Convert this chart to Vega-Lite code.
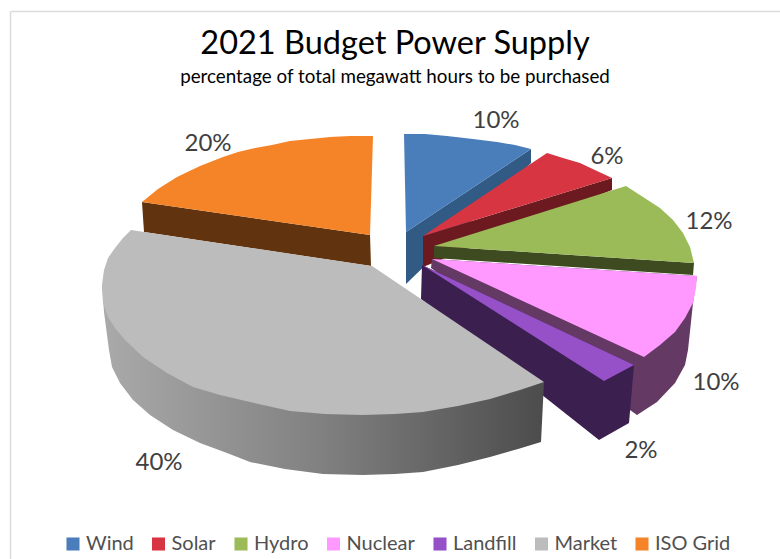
{
  "$schema": "https://vega.github.io/schema/vega-lite/v6.json",
  "width": 770,
  "height": 548,
  "padding": {"left": 10, "top": 11, "right": 0, "bottom": 0},
  "autosize": {"type": "none"},
  "background": "white",
  "config": {"view": {"stroke": null}, "font": "Lato"},
  "title": {
    "text": "2021 Budget Power Supply",
    "subtitle": "percentage of total megawatt hours to be purchased",
    "anchor": "middle",
    "frame": "group",
    "dy": 80,
    "font": "Lato",
    "fontSize": 32.5,
    "fontWeight": "normal",
    "color": "#000000",
    "subtitleFont": "Lato",
    "subtitleFontSize": 18.8,
    "subtitleColor": "#000000",
    "subtitlePadding": 8
  },
  "datasets": {
    "outline": [
      {"part": "Wind side", "seq": 1, "h": 406, "v": 232},
      {"part": "Wind side", "seq": 2, "h": 531, "v": 149},
      {"part": "Wind side", "seq": 3, "h": 531, "v": 163},
      {"part": "Wind side", "seq": 4, "h": 406, "v": 284},
      {"part": "Wind", "seq": 1, "h": 404, "v": 134},
      {"part": "Wind", "seq": 2, "h": 425, "v": 134},
      {"part": "Wind", "seq": 3, "h": 447, "v": 136},
      {"part": "Wind", "seq": 4, "h": 473, "v": 139},
      {"part": "Wind", "seq": 5, "h": 497, "v": 142},
      {"part": "Wind", "seq": 6, "h": 515, "v": 145},
      {"part": "Wind", "seq": 7, "h": 531, "v": 149},
      {"part": "Wind", "seq": 8, "h": 406, "v": 232},
      {"part": "ISO Grid side", "seq": 1, "h": 142, "v": 202},
      {"part": "ISO Grid side", "seq": 2, "h": 144, "v": 232},
      {"part": "ISO Grid side", "seq": 3, "h": 371, "v": 266},
      {"part": "ISO Grid side", "seq": 4, "h": 370, "v": 235},
      {"part": "ISO Grid", "seq": 1, "h": 373, "v": 136},
      {"part": "ISO Grid", "seq": 2, "h": 350, "v": 136},
      {"part": "ISO Grid", "seq": 3, "h": 330, "v": 137},
      {"part": "ISO Grid", "seq": 4, "h": 310, "v": 139},
      {"part": "ISO Grid", "seq": 5, "h": 290, "v": 141},
      {"part": "ISO Grid", "seq": 6, "h": 272, "v": 145},
      {"part": "ISO Grid", "seq": 7, "h": 255, "v": 148},
      {"part": "ISO Grid", "seq": 8, "h": 238, "v": 152},
      {"part": "ISO Grid", "seq": 9, "h": 223, "v": 157},
      {"part": "ISO Grid", "seq": 10, "h": 200, "v": 166},
      {"part": "ISO Grid", "seq": 11, "h": 177, "v": 177},
      {"part": "ISO Grid", "seq": 12, "h": 158, "v": 189},
      {"part": "ISO Grid", "seq": 13, "h": 142, "v": 202},
      {"part": "ISO Grid", "seq": 14, "h": 370, "v": 235},
      {"part": "Solar side", "seq": 1, "h": 423, "v": 236},
      {"part": "Solar side", "seq": 2, "h": 612, "v": 178},
      {"part": "Solar side", "seq": 3, "h": 612, "v": 190},
      {"part": "Solar side", "seq": 4, "h": 423, "v": 267},
      {"part": "Solar", "seq": 1, "h": 547, "v": 153},
      {"part": "Solar", "seq": 2, "h": 563, "v": 158},
      {"part": "Solar", "seq": 3, "h": 580, "v": 163},
      {"part": "Solar", "seq": 4, "h": 597, "v": 171},
      {"part": "Solar", "seq": 5, "h": 612, "v": 178},
      {"part": "Solar", "seq": 6, "h": 423, "v": 236},
      {"part": "Hydro side", "seq": 1, "h": 434, "v": 246},
      {"part": "Hydro side", "seq": 2, "h": 694, "v": 263},
      {"part": "Hydro side", "seq": 3, "h": 693, "v": 275},
      {"part": "Hydro side", "seq": 4, "h": 434, "v": 258},
      {"part": "Hydro", "seq": 1, "h": 626, "v": 186},
      {"part": "Hydro", "seq": 2, "h": 643, "v": 197},
      {"part": "Hydro", "seq": 3, "h": 660, "v": 208},
      {"part": "Hydro", "seq": 4, "h": 673, "v": 220},
      {"part": "Hydro", "seq": 5, "h": 683, "v": 233},
      {"part": "Hydro", "seq": 6, "h": 690, "v": 247},
      {"part": "Hydro", "seq": 7, "h": 694, "v": 263},
      {"part": "Hydro", "seq": 8, "h": 434, "v": 246},
      {"part": "Nuclear side", "seq": 1, "h": 431, "v": 268},
      {"part": "Nuclear side", "seq": 2, "h": 637, "v": 415},
      {"part": "Nuclear side", "seq": 3, "h": 657, "v": 402},
      {"part": "Nuclear side", "seq": 4, "h": 675, "v": 383},
      {"part": "Nuclear side", "seq": 5, "h": 685, "v": 365},
      {"part": "Nuclear side", "seq": 6, "h": 688, "v": 350},
      {"part": "Nuclear side", "seq": 7, "h": 693, "v": 303},
      {"part": "Nuclear side", "seq": 8, "h": 697, "v": 276},
      {"part": "Nuclear side", "seq": 9, "h": 432, "v": 259},
      {"part": "Nuclear", "seq": 1, "h": 432, "v": 259},
      {"part": "Nuclear", "seq": 2, "h": 697, "v": 276},
      {"part": "Nuclear", "seq": 3, "h": 696, "v": 288},
      {"part": "Nuclear", "seq": 4, "h": 693, "v": 303},
      {"part": "Nuclear", "seq": 5, "h": 685, "v": 318},
      {"part": "Nuclear", "seq": 6, "h": 675, "v": 332},
      {"part": "Nuclear", "seq": 7, "h": 660, "v": 345},
      {"part": "Nuclear", "seq": 8, "h": 644, "v": 357},
      {"part": "Landfill side", "seq": 1, "h": 422, "v": 265},
      {"part": "Landfill side", "seq": 2, "h": 634, "v": 365},
      {"part": "Landfill side", "seq": 3, "h": 629, "v": 423},
      {"part": "Landfill side", "seq": 4, "h": 599, "v": 440},
      {"part": "Landfill side", "seq": 5, "h": 421, "v": 299},
      {"part": "Landfill", "seq": 1, "h": 422, "v": 265},
      {"part": "Landfill", "seq": 2, "h": 634, "v": 365},
      {"part": "Landfill", "seq": 3, "h": 604, "v": 381},
      {"part": "Market side", "seq": 1, "h": 102, "v": 285},
      {"part": "Market side", "seq": 2, "h": 104, "v": 312},
      {"part": "Market side", "seq": 3, "h": 107, "v": 335},
      {"part": "Market side", "seq": 4, "h": 109, "v": 350},
      {"part": "Market side", "seq": 5, "h": 112, "v": 367},
      {"part": "Market side", "seq": 6, "h": 120, "v": 383},
      {"part": "Market side", "seq": 7, "h": 133, "v": 400},
      {"part": "Market side", "seq": 8, "h": 150, "v": 415},
      {"part": "Market side", "seq": 9, "h": 173, "v": 430},
      {"part": "Market side", "seq": 10, "h": 200, "v": 443},
      {"part": "Market side", "seq": 11, "h": 227, "v": 453},
      {"part": "Market side", "seq": 12, "h": 250, "v": 462},
      {"part": "Market side", "seq": 13, "h": 285, "v": 469},
      {"part": "Market side", "seq": 14, "h": 323, "v": 474},
      {"part": "Market side", "seq": 15, "h": 363, "v": 475},
      {"part": "Market side", "seq": 16, "h": 395, "v": 474},
      {"part": "Market side", "seq": 17, "h": 423, "v": 472},
      {"part": "Market side", "seq": 18, "h": 458, "v": 465},
      {"part": "Market side", "seq": 19, "h": 490, "v": 457},
      {"part": "Market side", "seq": 20, "h": 518, "v": 449},
      {"part": "Market side", "seq": 21, "h": 541, "v": 442},
      {"part": "Market side", "seq": 22, "h": 544, "v": 382},
      {"part": "Market side", "seq": 23, "h": 363, "v": 400},
      {"part": "Market", "seq": 1, "h": 372, "v": 266},
      {"part": "Market", "seq": 2, "h": 131, "v": 230},
      {"part": "Market", "seq": 3, "h": 123, "v": 238},
      {"part": "Market", "seq": 4, "h": 115, "v": 248},
      {"part": "Market", "seq": 5, "h": 108, "v": 258},
      {"part": "Market", "seq": 6, "h": 104, "v": 270},
      {"part": "Market", "seq": 7, "h": 102, "v": 285},
      {"part": "Market", "seq": 8, "h": 103, "v": 303},
      {"part": "Market", "seq": 9, "h": 108, "v": 317},
      {"part": "Market", "seq": 10, "h": 115, "v": 328},
      {"part": "Market", "seq": 11, "h": 125, "v": 340},
      {"part": "Market", "seq": 12, "h": 143, "v": 357},
      {"part": "Market", "seq": 13, "h": 167, "v": 373},
      {"part": "Market", "seq": 14, "h": 193, "v": 387},
      {"part": "Market", "seq": 15, "h": 220, "v": 395},
      {"part": "Market", "seq": 16, "h": 250, "v": 402},
      {"part": "Market", "seq": 17, "h": 290, "v": 411},
      {"part": "Market", "seq": 18, "h": 325, "v": 414},
      {"part": "Market", "seq": 19, "h": 363, "v": 415},
      {"part": "Market", "seq": 20, "h": 395, "v": 414},
      {"part": "Market", "seq": 21, "h": 423, "v": 412},
      {"part": "Market", "seq": 22, "h": 458, "v": 406},
      {"part": "Market", "seq": 23, "h": 490, "v": 399},
      {"part": "Market", "seq": 24, "h": 520, "v": 390},
      {"part": "Market", "seq": 25, "h": 544, "v": 382}
    ],
    "shares": [
      {"source": "Wind", "share": 0.10, "h": 496, "v": 119},
      {"source": "Solar", "share": 0.06, "h": 607, "v": 155},
      {"source": "Hydro", "share": 0.12, "h": 709, "v": 220},
      {"source": "Nuclear", "share": 0.10, "h": 716, "v": 381},
      {"source": "Landfill", "share": 0.02, "h": 641, "v": 449},
      {"source": "Market", "share": 0.40, "h": 159, "v": 461},
      {"source": "ISO Grid", "share": 0.20, "h": 208, "v": 142}
    ]
  },
  "encoding": {
    "x": {
      "field": "h",
      "type": "quantitative",
      "title": null,
      "scale": {"domain": [10, 780], "nice": false, "zero": false},
      "axis": {"orient": "top", "labels": false, "ticks": false, "grid": false, "domainColor": "#dcdcdc", "domainWidth": 1.5}
    },
    "y": {
      "field": "v",
      "type": "quantitative",
      "title": null,
      "scale": {"domain": [559, 11], "nice": false, "zero": false},
      "axis": {"orient": "left", "labels": false, "ticks": false, "grid": false, "domainColor": "#dcdcdc", "domainWidth": 1.5}
    }
  },
  "layer": [
    {
      "data": {"name": "outline"},
      "transform": [{"filter": "datum.part !== 'Market side' && datum.part !== 'Market'"}],
      "mark": {"type": "line", "filled": true, "interpolate": "linear", "strokeWidth": 0},
      "encoding": {
        "order": {"field": "seq", "type": "quantitative"},
        "color": {
          "field": "part",
          "type": "nominal",
          "scale": {
            "domain": ["Wind", "Solar", "Hydro", "Nuclear", "Landfill", "Market", "ISO Grid", "Wind side", "ISO Grid side", "Solar side", "Hydro side", "Nuclear side", "Landfill side"],
            "range": ["#4a7ebb", "#d63541", "#9bbb59", "#ff99ff", "#9650c8", "#bcbcbc", "#f58428", "#315a85", "#61330e", "#6c1a20", "#3e4a20", "#643a64", "#3b1f4f"]
          },
          "legend": {
            "values": ["Wind", "Solar", "Hydro", "Nuclear", "Landfill", "Market", "ISO Grid"],
            "title": null,
            "orient": "none",
            "direction": "horizontal",
            "columns": 7,
            "legendX": 53,
            "legendY": 523,
            "symbolType": "square",
            "symbolSize": 170,
            "symbolStrokeWidth": 0,
            "labelFont": "Lato",
            "labelFontSize": 20,
            "labelColor": "#505050",
            "labelOffset": 3,
            "columnPadding": 14.5
          }
        }
      }
    },
    {
      "data": {"name": "outline"},
      "transform": [{"filter": "datum.part === 'Market side'"}],
      "mark": {
        "type": "line",
        "filled": true,
        "strokeWidth": 0,
        "color": {
          "gradient": "linear",
          "x1": 0, "y1": 0, "x2": 1, "y2": 0,
          "stops": [
            {"offset": 0, "color": "#aaaaaa"},
            {"offset": 0.5, "color": "#808080"},
            {"offset": 1, "color": "#4c4c4c"}
          ]
        }
      },
      "encoding": {
        "order": {"field": "seq", "type": "quantitative"}
      }
    },
    {
      "data": {"name": "outline"},
      "transform": [{"filter": "datum.part === 'Market'"}],
      "mark": {"type": "line", "filled": true, "strokeWidth": 0},
      "encoding": {
        "order": {"field": "seq", "type": "quantitative"},
        "color": {"field": "part", "type": "nominal"}
      }
    },
    {
      "data": {"name": "shares"},
      "mark": {"type": "text", "font": "Lato", "fontSize": 24, "color": "#404040", "dy": 2},
      "encoding": {
        "text": {"field": "share", "type": "quantitative", "format": ".0%"}
      }
    }
  ]
}
